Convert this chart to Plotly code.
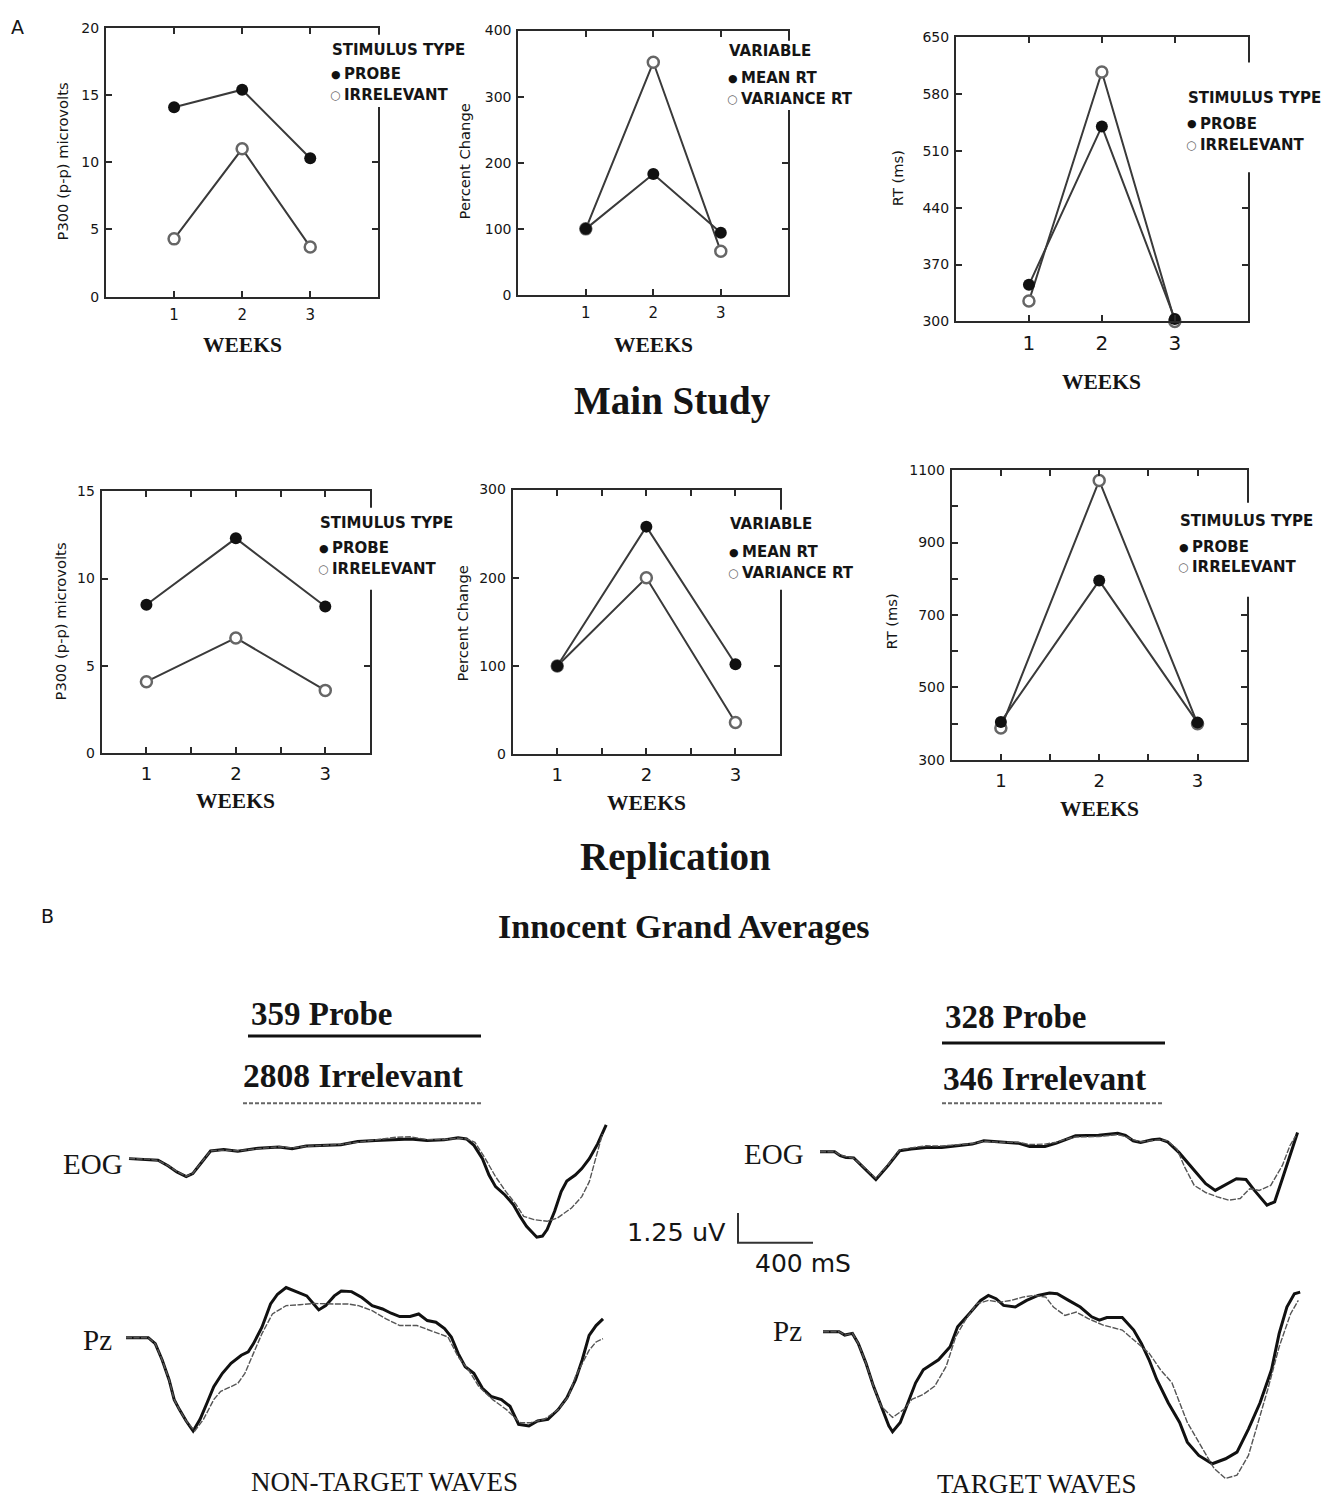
import plotly.graph_objects as go

W, H = 1329, 1509          # target screen size
OFF_X, OFF_Y = 8, 8        # default body margin of the html page
FW, FH = W - 2 * OFF_X, H - 2 * OFF_Y

# ---------------- Panel A data ----------------
weeks = [1, 2, 3]
week_ticks = ["1", "2", "3"]

main_p300_probe = [14.1, 15.4, 10.3]
main_p300_irrel = [4.3, 11.0, 3.7]
main_pct_mean = [100, 183, 94]
main_pct_var = [100, 352, 66]
main_rt_probe = [345, 540, 303]
main_rt_irrel = [325, 607, 300]

rep_p300_probe = [8.5, 12.3, 8.4]
rep_p300_irrel = [4.1, 6.6, 3.6]
rep_pct_mean = [100, 258, 102]
rep_pct_var = [100, 200, 36]
rep_rt_probe = [405, 795, 403]
rep_rt_irrel = [388, 1071, 400]

# ---------------- Panel B data (ms, uV) ----------------
t_eog_nt_probe = [0, 100, 155, 210, 255, 305, 340, 375, 435, 505, 580, 690, 800, 870, 945, 1130, 1220, 1315, 1425, 1500,
                  1590, 1680, 1755, 1800, 1840, 1885, 1920, 1955, 2005, 2050, 2085, 2120, 2175, 2205, 2230, 2270, 2305,
                  2335, 2380, 2415, 2455, 2500, 2545]
v_eog_nt_probe = [0, -0.03, -0.07, -0.31, -0.56, -0.76, -0.63, -0.28, 0.32, 0.38, 0.31, 0.44, 0.49, 0.42, 0.53, 0.58,
                  0.72, 0.76, 0.79, 0.83, 0.76, 0.79, 0.88, 0.83, 0.56, 0.0, -0.69, -1.18, -1.53, -1.94, -2.43, -2.85,
                  -3.31, -3.26, -2.99, -2.22, -1.39, -0.94, -0.69, -0.42, 0.0, 0.63, 1.42]
t_eog_nt_irrel = [0, 100, 155, 210, 255, 305, 340, 375, 435, 505, 580, 690, 800, 870, 945, 1130, 1220, 1315, 1425, 1500,
                  1590, 1680, 1755, 1800, 1845, 1900, 1955, 2010, 2065, 2105, 2160, 2230, 2285, 2360, 2415, 2455, 2490,
                  2525]
v_eog_nt_irrel = [0, -0.02, -0.08, -0.30, -0.54, -0.74, -0.62, -0.27, 0.33, 0.36, 0.33, 0.42, 0.50, 0.45, 0.52, 0.60,
                  0.70, 0.78, 0.90, 0.92, 0.80, 0.80, 0.86, 0.83, 0.69, 0.0, -0.76, -1.39, -1.94, -2.43, -2.57, -2.64,
                  -2.50, -2.08, -1.60, -0.97, 0.0, 1.04]

t_pz_nt_probe = [0, 119, 156, 193, 230, 257, 285, 321, 358, 395, 432, 468, 514, 560, 615, 652, 680, 725, 771, 808, 854,
                 900, 964, 1001, 1028, 1065, 1111, 1148, 1203, 1258, 1313, 1368, 1414, 1460, 1515, 1561, 1607, 1653,
                 1699, 1735, 1772, 1809, 1855, 1901, 1947, 2002, 2048, 2094, 2149, 2195, 2250, 2305, 2351, 2397, 2433,
                 2470, 2507, 2544]
v_pz_nt_probe = [0, 0, -0.25, -0.94, -1.78, -2.61, -3.03, -3.51, -3.93, -3.44, -2.75, -2.06, -1.50, -1.08, -0.74,
                 -0.60, -0.25, 0.44, 1.42, 1.83, 2.11, 1.97, 1.76, 1.42, 1.17, 1.35, 1.76, 1.97, 1.94, 1.69, 1.35, 1.21,
                 1.03, 0.89, 0.89, 1.00, 0.72, 0.65, 0.38, 0.03, -0.67, -1.22, -1.50, -2.13, -2.47, -2.61, -2.89, -3.65,
                 -3.72, -3.51, -3.44, -3.03, -2.54, -1.78, -0.94, 0.10, 0.51, 0.79]
t_pz_nt_irrel = [0, 119, 156, 193, 230, 257, 285, 321, 367, 413, 468, 505, 560, 597, 634, 670, 725, 781, 854, 927,
                 1001, 1111, 1185, 1240, 1313, 1387, 1460, 1552, 1625, 1717, 1772, 1827, 1882, 1956, 2029, 2103, 2158,
                 2231, 2305, 2360, 2397, 2433, 2470, 2507, 2544]
v_pz_nt_irrel = [0, 0, -0.25, -0.94, -1.78, -2.61, -3.03, -3.51, -3.93, -3.44, -2.61, -2.26, -2.06, -1.92, -1.50,
                 -0.81, 0.17, 1.00, 1.35, 1.39, 1.44, 1.42, 1.42, 1.35, 1.14, 0.79, 0.51, 0.51, 0.31, 0.03, -0.81,
                 -1.36, -2.06, -2.61, -3.03, -3.58, -3.58, -3.44, -3.03, -2.47, -1.64, -1.08, -0.53, -0.18, -0.04]

t_eog_t_probe = [0, 78, 108, 139, 180, 241, 298, 363, 425, 486, 567, 649, 731, 812, 874, 955, 1057, 1118, 1200, 1261,
                 1323, 1363, 1486, 1588, 1629, 1670, 1710, 1772, 1812, 1853, 1914, 1996, 2057, 2108, 2159, 2221, 2272,
                 2317, 2384, 2425, 2466, 2506, 2547]
v_eog_t_probe = [0, 0, -0.17, -0.24, -0.26, -0.72, -1.17, -0.58, 0.04, 0.11, 0.18, 0.18, 0.25, 0.32, 0.46, 0.42, 0.36,
                 0.22, 0.22, 0.36, 0.53, 0.67, 0.69, 0.78, 0.69, 0.46, 0.39, 0.50, 0.53, 0.42, -0.03, -0.79, -1.35,
                 -1.63, -1.42, -1.14, -1.17, -1.63, -2.25, -2.11, -1.14, -0.17, 0.81]
t_eog_t_irrel = [0, 78, 108, 139, 180, 241, 298, 363, 425, 486, 567, 649, 731, 812, 874, 955, 1057, 1118, 1200, 1261,
                 1323, 1363, 1486, 1588, 1629, 1670, 1710, 1772, 1812, 1853, 1904, 1945, 1996, 2057, 2119, 2180, 2241,
                 2292, 2343, 2404, 2466, 2506, 2537]
v_eog_t_irrel = [0, 0, -0.15, -0.22, -0.28, -0.70, -1.12, -0.55, 0.08, 0.16, 0.25, 0.24, 0.30, 0.34, 0.44, 0.40, 0.40,
                 0.30, 0.32, 0.40, 0.55, 0.62, 0.64, 0.72, 0.64, 0.50, 0.42, 0.46, 0.50, 0.46, 0.11, -0.65, -1.42,
                 -1.72, -1.90, -2.04, -1.97, -1.56, -1.63, -1.42, -0.58, 0.25, 0.67]

t_pz_t_probe = [0, 86, 116, 157, 188, 229, 269, 310, 351, 371, 412, 453, 494, 535, 576, 616, 678, 718, 780, 841, 882,
                923, 963, 1025, 1086, 1147, 1208, 1249, 1310, 1372, 1433, 1474, 1514, 1596, 1657, 1698, 1739, 1780,
                1841, 1902, 1943, 2004, 2076, 2147, 2208, 2269, 2331, 2392, 2433, 2474, 2514, 2545]
v_pz_t_probe = [0, 0, -0.14, -0.07, -0.49, -1.32, -2.29, -3.13, -3.96, -4.21, -3.82, -2.99, -2.15, -1.60, -1.39, -1.18,
                -0.63, 0.21, 0.76, 1.32, 1.53, 1.39, 1.11, 1.04, 1.32, 1.53, 1.63, 1.60, 1.32, 1.04, 0.63, 0.49, 0.60,
                0.60, 0.07, -0.49, -1.18, -2.01, -2.99, -3.82, -4.65, -5.21, -5.56, -5.35, -5.07, -4.10, -2.99, -1.60,
                -0.07, 1.04, 1.60, 1.67]
t_pz_t_irrel = [0, 86, 116, 157, 188, 229, 269, 310, 371, 433, 474, 535, 596, 657, 708, 759, 820, 882, 943, 1004, 1065,
                1127, 1188, 1229, 1290, 1351, 1412, 1494, 1596, 1678, 1739, 1800, 1861, 1902, 1943, 2004, 2086, 2147,
                2208, 2269, 2331, 2372, 2433, 2494, 2535]
v_pz_t_irrel = [0, 0, -0.14, -0.07, -0.49, -1.32, -2.29, -3.13, -3.61, -3.26, -2.85, -2.64, -2.29, -1.46, -0.21, 0.49,
                1.18, 1.32, 1.25, 1.32, 1.46, 1.53, 1.46, 1.04, 0.69, 0.83, 0.56, 0.28, 0.07, -0.49, -0.90, -1.60,
                -2.15, -2.99, -3.82, -4.65, -5.76, -6.18, -6.04, -5.21, -3.54, -2.43, -0.63, 0.76, 1.32]

scale_ms = 400
scale_uv = 1.25

# ---------------- styling ----------------
SANS = "DejaVu Sans"
SERIF = "Liberation Serif"
INK = "#151515"
AX = "#2a2a2a"
LINEC = "#3a3a3a"

MS_PER_PX = 400 / 75.0
PX_PER_UV = 30 / 1.25

fig = go.Figure()
layout = {}
annotations = []
shapes = []


def px_x(x):
    return (x - OFF_X) / FW


def px_y(y):
    return 1 - (y - OFF_Y) / FH


def dom_x(x0, x1):
    return [max(0, px_x(x0)), min(1, px_x(x1))]


def dom_y(y0, y1):
    return [max(0, px_y(y1)), min(1, px_y(y0))]


def txt(s, x, y, size, family=SANS, bold=False, xanchor="center", angle=0, color=INK):
    if bold:
        s = "<b>" + s + "</b>"
    annotations.append(dict(text=s, x=px_x(x), y=px_y(y), xref="paper", yref="paper", showarrow=False,
                            xanchor=xanchor, yanchor="middle", textangle=angle,
                            font=dict(family=family, size=size, color=color)))


def white_box(x0, y0, x1, y1):
    shapes.append(dict(type="rect", xref="paper", yref="paper", x0=px_x(x0), x1=min(1, px_x(x1)), y0=px_y(y1),
                       y1=px_y(y0), fillcolor="white", line=dict(width=0), layer="above"))


charts = [
    dict(box=(106, 20, 378.3, 291.7), xr=[0, 4], yr=[0, 20], dy=5, t0=0, xfs=15, probe=main_p300_probe,
         irr=main_p300_irrel, ytitle="P300 (p-p) microvolts", ytx=62, yty=155, weeks_y=341, minorx=False, minory=None,
         leg=("STIMULUS TYPE", "PROBE", "IRRELEVANT"), lx=330, ly=(42, 67, 88), box_w=(322, 27, 470, 100)),
    dict(box=(518.3, 22.7, 788.3, 290), xr=[0, 4], yr=[0, 400], dy=100, t0=0, xfs=15, probe=main_pct_mean,
         irr=main_pct_var, ytitle="Percent Change", ytx=464, yty=155, weeks_y=341, minorx=False, minory=None,
         leg=("VARIABLE", "MEAN RT", "VARIANCE RT"), lx=727, ly=(43, 71, 92), box_w=(720, 33, 860, 103)),
    dict(box=(956, 29.3, 1247.7, 316.7), xr=[0, 4], yr=[300, 650], dy=70, t0=300, xfs=20, probe=main_rt_probe,
         irr=main_rt_irrel, ytitle="RT (ms)", ytx=897, yty=172, weeks_y=378, minorx=False, minory=None,
         leg=("STIMULUS TYPE", "PROBE", "IRRELEVANT"), lx=1186, ly=(91, 117, 138), box_w=(1180, 55, 1329, 166)),
    dict(box=(101.7, 488.3, 370, 753.3), xr=[0.5, 3.5], yr=[0, 15], dy=5, t0=0, xfs=18, probe=rep_p300_probe,
         irr=rep_p300_irrel, ytitle="P300 (p-p) microvolts", ytx=60, yty=620, weeks_y=801, minorx=True, minory=None,
         leg=("STIMULUS TYPE", "PROBE", "IRRELEVANT"), lx=318, ly=(520, 546, 567), box_w=(312, 505, 460, 588)),
    dict(box=(512.7, 486.7, 780, 754.3), xr=[0.5, 3.5], yr=[0, 300], dy=100, t0=0, xfs=18, probe=rep_pct_mean,
         irr=rep_pct_var, ytitle="Percent Change", ytx=462, yty=622, weeks_y=804, minorx=True, minory=None,
         leg=("VARIABLE", "MEAN RT", "VARIANCE RT"), lx=728, ly=(522, 550, 571), box_w=(722, 507, 860, 588)),
    dict(box=(951.7, 467, 1246.7, 760), xr=[0.5, 3.5], yr=[300, 1100], dy=200, t0=300, xfs=18, probe=rep_rt_probe,
         irr=rep_rt_irrel, ytitle="RT (ms)", ytx=891, yty=620, weeks_y=810, minorx=True, minory=100,
         leg=("STIMULUS TYPE", "PROBE", "IRRELEVANT"), lx=1178, ly=(518, 545, 565), box_w=(1172, 500, 1329, 595)),
]

for i, c in enumerate(charts, start=1):
    x0, y0, x1, y1 = c["box"]
    xa = dict(domain=dom_x(x0, x1), range=c["xr"], anchor="y%d" % i, tickmode="array", tickvals=weeks,
              ticktext=week_ticks, showline=True, linewidth=2, linecolor=AX, mirror="ticks", ticks="inside",
              ticklen=6, tickwidth=2, tickcolor=AX, showgrid=False, zeroline=False,
              tickfont=dict(family=SANS, size=c["xfs"], color=INK), ticklabelstandoff=3)
    if c["minorx"]:
        xa["minor"] = dict(tick0=0, dtick=0.5, ticks="inside", ticklen=6, tickwidth=2, tickcolor=AX)
    ya = dict(domain=dom_y(y0, y1), range=c["yr"], anchor="x%d" % i, tickmode="linear", tick0=c["t0"], dtick=c["dy"],
              showline=True, linewidth=2, linecolor=AX, mirror="ticks", ticks="inside", ticklen=6, tickwidth=2,
              tickcolor=AX, showgrid=False, zeroline=False, tickfont=dict(family=SANS, size=14, color=INK),
              ticklabelstandoff=2)
    if c["minory"]:
        ya["minor"] = dict(tick0=c["t0"], dtick=c["minory"], ticks="inside", ticklen=6, tickwidth=2, tickcolor=AX)
    layout["xaxis" if i == 1 else "xaxis%d" % i] = xa
    layout["yaxis" if i == 1 else "yaxis%d" % i] = ya

    fig.add_trace(go.Scatter(x=weeks, y=c["irr"], xaxis="x%d" % i, yaxis="y%d" % i, mode="lines+markers",
                             line=dict(color=LINEC, width=2),
                             marker=dict(symbol="circle", size=11, color="white",
                                         line=dict(color="#666", width=2.5)),
                             cliponaxis=False, showlegend=False, name=c["leg"][2]))
    fig.add_trace(go.Scatter(x=weeks, y=c["probe"], xaxis="x%d" % i, yaxis="y%d" % i, mode="lines+markers",
                             line=dict(color=LINEC, width=2), marker=dict(symbol="circle", size=12, color="#111"),
                             cliponaxis=False, showlegend=False, name=c["leg"][1]))

    # legend box covering the frame, then legend texts
    white_box(*c["box_w"])
    lx = c["lx"]
    txt(c["leg"][0], lx, c["ly"][0], 15, bold=True, xanchor="left")
    txt("●", lx - 1, c["ly"][1], 11, xanchor="left", color="#111")
    txt(c["leg"][1], lx + 12, c["ly"][1], 15, bold=True, xanchor="left")
    txt("○", lx - 2, c["ly"][2], 12, bold=True, xanchor="left", color="#666")
    txt(c["leg"][2], lx + 12, c["ly"][2], 15, bold=True, xanchor="left")

    txt(c["ytitle"], c["ytx"], c["yty"], 14.7, angle=-90)
    txt("WEEKS", (x0 + x1) / 2, c["weeks_y"], 21.5, family=SERIF, bold=True)

# section titles
txt("A", 17, 19, 19)
txt("Main Study", 672, 397, 39, family=SERIF, bold=True)
txt("Replication", 676, 858, 39, family=SERIF, bold=True)
txt("B", 47, 918, 19)
txt("Innocent Grand Averages", 683, 928, 34, family=SERIF, bold=True)

# ---------------- Panel B axes ----------------
XR = [-100, 2650]


def wave_axes(n, ox, oy, yr):
    xpx0 = ox + XR[0] / MS_PER_PX
    xpx1 = ox + XR[1] / MS_PER_PX
    ytop = oy - yr[1] * PX_PER_UV
    ybot = oy - yr[0] * PX_PER_UV
    layout["xaxis%d" % n] = dict(domain=dom_x(xpx0, xpx1), range=XR, visible=False, anchor="y%d" % n)
    layout["yaxis%d" % n] = dict(domain=dom_y(ytop, ybot), range=yr, visible=False, anchor="x%d" % n)


wave_axes(7, 129, 1163, [-4, 2])
wave_axes(8, 126, 1344, [-6, 3])
wave_axes(9, 820, 1156, [-4, 2])
wave_axes(10, 823, 1338, [-6.4, 3])

waves = [
    (7, t_eog_nt_probe, v_eog_nt_probe, t_eog_nt_irrel, v_eog_nt_irrel),
    (8, t_pz_nt_probe, v_pz_nt_probe, t_pz_nt_irrel, v_pz_nt_irrel),
    (9, t_eog_t_probe, v_eog_t_probe, t_eog_t_irrel, v_eog_t_irrel),
    (10, t_pz_t_probe, v_pz_t_probe, t_pz_t_irrel, v_pz_t_irrel),
]
for n, tp, vp, ti, vi in waves:
    fig.add_trace(go.Scatter(x=tp, y=vp, xaxis="x%d" % n, yaxis="y%d" % n, mode="lines",
                             line=dict(color="#111", width=3), showlegend=False, name="Probe", cliponaxis=False))
    fig.add_trace(go.Scatter(x=ti, y=vi, xaxis="x%d" % n, yaxis="y%d" % n, mode="lines",
                             line=dict(color="#555", width=1.4, dash="6px,1.5px"), showlegend=False,
                             name="Irrelevant", cliponaxis=False))

# scale bar axis (origin at the corner of the bar)
sox, soy = 738, 1248
sxr = [-20, 420]
syr = [-0.3, 1.5]
layout["xaxis11"] = dict(domain=dom_x(sox + sxr[0] / MS_PER_PX, sox + sxr[1] / MS_PER_PX), range=sxr, visible=False,
                         anchor="y11")
layout["yaxis11"] = dict(domain=dom_y(soy - syr[1] * PX_PER_UV, soy - syr[0] * PX_PER_UV), range=syr, visible=False,
                         anchor="x11")
fig.add_trace(go.Scatter(x=[0, 0, scale_ms], y=[scale_uv, 0, 0], xaxis="x11", yaxis="y11", mode="lines",
                         line=dict(color="#333", width=2), showlegend=False, hoverinfo="skip"))
txt("1.25 uV", 728, 1237, 25.5, xanchor="right")
txt("400 mS", 803, 1269, 25)

# condition headers
txt("359 Probe", 249, 1017, 33, family=SERIF, bold=True, xanchor="left")
txt("2808 Irrelevant", 241, 1079, 33.5, family=SERIF, bold=True, xanchor="left")
txt("328 Probe", 943, 1020, 33, family=SERIF, bold=True, xanchor="left")
txt("346 Irrelevant", 941, 1082, 33.5, family=SERIF, bold=True, xanchor="left")


def hline(x0, x1, y, width, color, dash=None):
    shapes.append(dict(type="line", xref="paper", yref="paper", x0=px_x(x0), x1=px_x(x1), y0=px_y(y), y1=px_y(y),
                       line=dict(color=color, width=width, dash=dash)))


hline(248, 481, 1039, 3, "#111")
hline(243, 481, 1107, 2, "#666", "4px,2px")
hline(942, 1165, 1046, 3, "#111")
hline(942, 1163, 1107, 2, "#666", "4px,2px")

txt("EOG", 93, 1168, 29, family=SERIF)
txt("EOG", 774, 1158, 29, family=SERIF)
txt("Pz", 97, 1346, 29, family=SERIF)
txt("Pz", 787, 1337, 29, family=SERIF)
txt("NON-TARGET WAVES", 385, 1490, 27, family=SERIF)
txt("TARGET WAVES", 1037, 1492, 27, family=SERIF)

fig.update_layout(width=FW, height=FH, margin=dict(l=0, r=0, t=0, b=0), paper_bgcolor="white",
                  plot_bgcolor="rgba(0,0,0,0)", showlegend=False, annotations=annotations, shapes=shapes, **layout)

fig.write_html("out.html")
